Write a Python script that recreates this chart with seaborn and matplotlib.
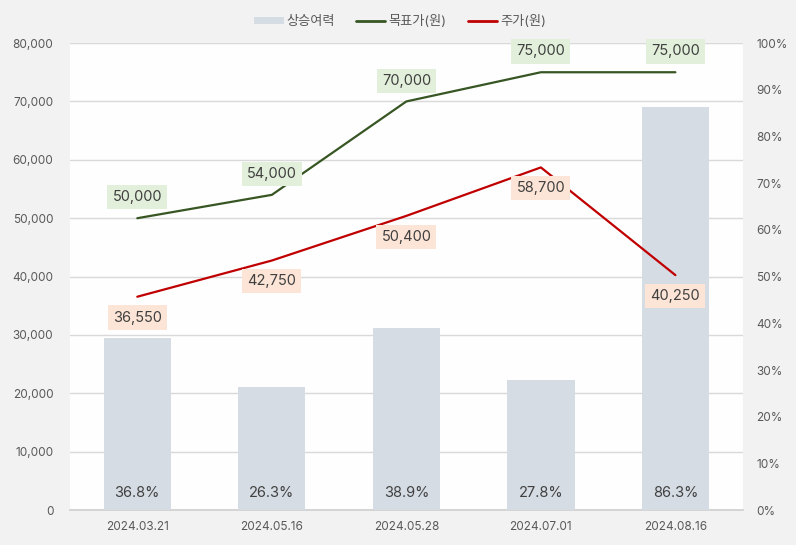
import pandas as pd
import matplotlib.pyplot as plt
import seaborn as sns
from matplotlib.patches import Patch
from matplotlib.lines import Line2D

dates = ["2024.03.21", "2024.05.16", "2024.05.28", "2024.07.01", "2024.08.16"]
upside = [36.8, 26.3, 38.9, 27.8, 86.3]
target_price = [50000, 54000, 70000, 75000, 75000]
stock_price = [36550, 42750, 50400, 58700, 40250]

sns.set_theme(style="white")
plt.rcParams['font.family'] = ['Inter', 'Noto Sans CJK KR', 'DejaVu Sans']

BAR_C = "#d6dce4"
GREEN = "#375623"
RED = "#c00000"
TICK_C = "#595959"

df = pd.DataFrame({"date": dates, "upside": upside,
                   "target": target_price, "price": stock_price})

fig = plt.figure(figsize=(7.96, 5.45), dpi=100, facecolor="#f2f2f2")
ax = fig.add_axes([0.088, 0.064, 0.845, 0.857])
ax.set_facecolor("#fefefe")

# 격자 + 왼쪽 축
ax.set_xlim(-0.5, 4.5)
ax.set_ylim(0, 80000)
ax.set_yticks(range(0, 80001, 10000))
ax.set_yticklabels([f"{v:,}" for v in range(0, 80001, 10000)])
ax.grid(axis="y", color="#d9d9d9", linewidth=1)
ax.set_xticks(range(len(dates)))
ax.set_xticklabels(dates)
ax.tick_params(axis="both", length=0, labelsize=8.5, labelcolor=TICK_C)
ax.tick_params(axis="y", pad=12)
ax.tick_params(axis="x", pad=8)
for s in ["top", "left", "right"]:
    ax.spines[s].set_visible(False)
ax.spines["bottom"].set_color("#d0d0d0")

# 막대 (오른쪽 축)
ax2 = ax.twinx()
ax2.patch.set_visible(False)
sns.barplot(x="date", y="upside", data=df, color=BAR_C, width=0.5,
            saturation=1, linewidth=0, ax=ax2)
ax2.set_xlim(-0.5, 4.5)
ax2.set_ylim(0, 100)
ax2.set_yticks(range(0, 101, 10))
ax2.set_yticklabels([f"{v}%" for v in range(0, 101, 10)])
ax2.tick_params(axis="y", length=0, labelsize=8.5, labelcolor=TICK_C, pad=10)
ax2.set_xlabel("")
ax2.set_ylabel("")
for s in ax2.spines.values():
    s.set_visible(False)
for i, v in enumerate(upside):
    ax2.annotate(f"{v}%", (i, 0), xytext=(0, 12), textcoords="offset points",
                 ha="center", va="center", fontsize=10.5, color="#404040")

# 선 (맨 위)
ax3 = ax.twinx()
ax3.patch.set_visible(False)
sns.lineplot(x=range(len(dates)), y=target_price, color=GREEN, linewidth=1.6, ax=ax3)
sns.lineplot(x=range(len(dates)), y=stock_price, color=RED, linewidth=1.6, ax=ax3)
ax3.set_xlim(-0.5, 4.5)
ax3.set_ylim(0, 80000)
ax3.set_yticks([])
for s in ax3.spines.values():
    s.set_visible(False)

for i, v in enumerate(target_price):
    ax3.annotate(f"{v:,}", (i, v), xytext=(0, 15), textcoords="offset points",
                 ha="center", va="center", fontsize=10.5, color="#404040",
                 bbox=dict(boxstyle="square,pad=0.35", fc="#e2efda", ec="none"))
for i, v in enumerate(stock_price):
    ax3.annotate(f"{v:,}", (i, v), xytext=(0, -15), textcoords="offset points",
                 ha="center", va="center", fontsize=10.5, color="#404040",
                 bbox=dict(boxstyle="square,pad=0.35", fc="#fce4d6", ec="none"))

ax.set_zorder(1)
ax2.set_zorder(2)
ax3.set_zorder(3)

handles = [Patch(facecolor=BAR_C, edgecolor="none", label="상승여력"),
           Line2D([], [], color=GREEN, linewidth=2, label="목표가(원)"),
           Line2D([], [], color=RED, linewidth=2, label="주가(원)")]
leg = fig.legend(handles=handles, loc="center", bbox_to_anchor=(0.503, 0.96),
                 ncol=3, frameon=False, fontsize=9.5, handlelength=2.2,
                 handleheight=0.5, columnspacing=1.6, handletextpad=0.25)
for t in leg.get_texts():
    t.set_color(TICK_C)

fig.savefig("out.png", dpi=100, facecolor=fig.get_facecolor())
